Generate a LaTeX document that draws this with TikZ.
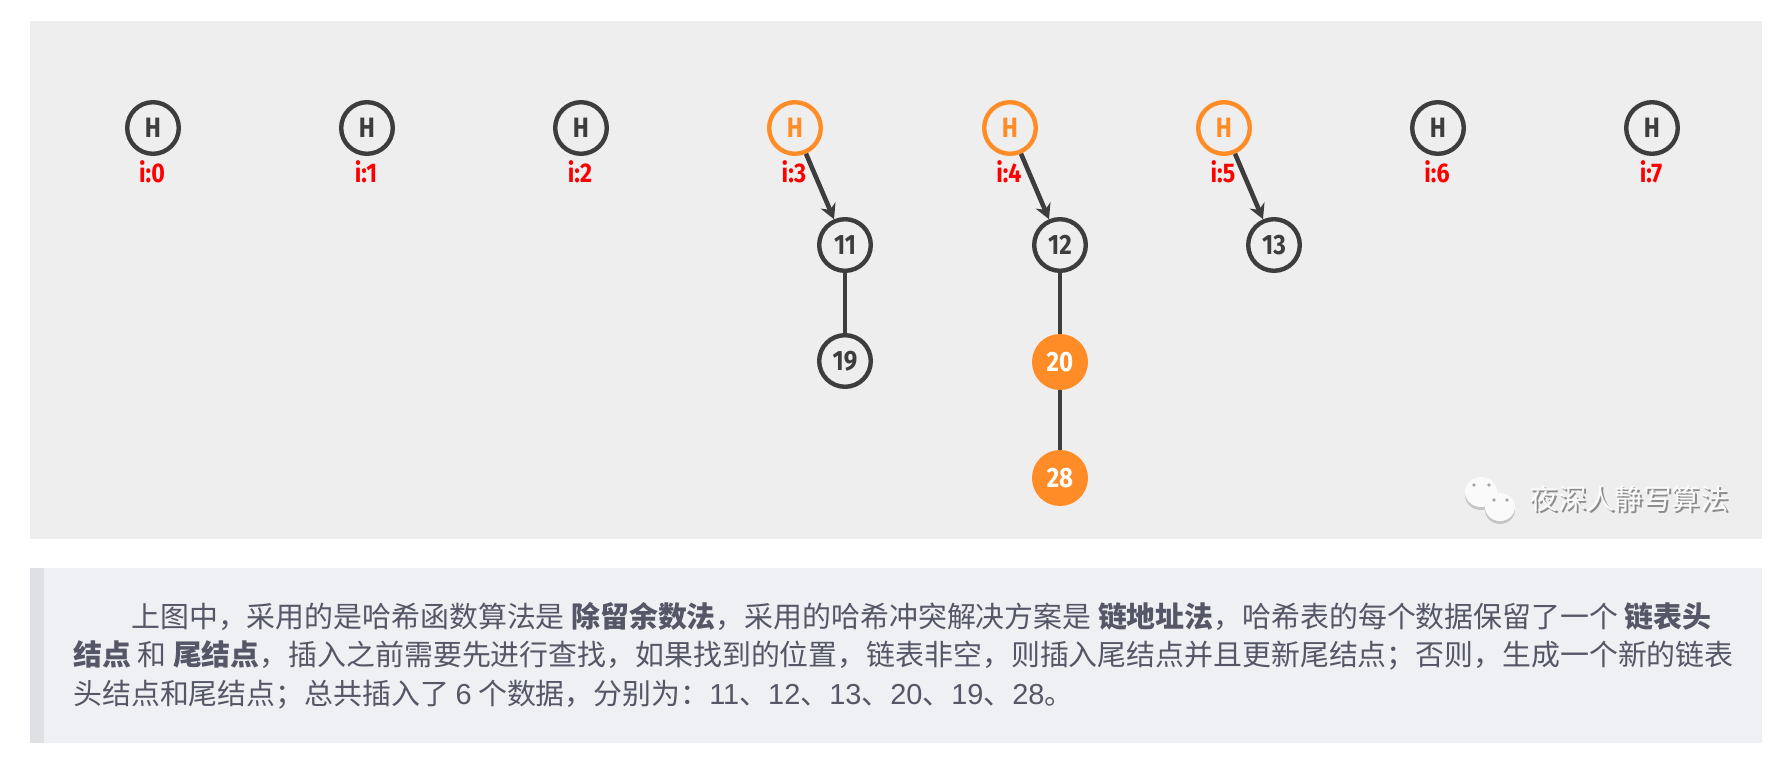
\documentclass[tikz,border=0pt]{standalone}
\usepackage{fontspec}
\setmainfont{Fira Sans}
\newfontfamily\narrowfont[FakeStretch=0.86,BoldFont={Fira Sans Bold}]{Fira Sans}
\newfontfamily\cjkfont{Noto Sans CJK SC}
\newfontfamily\latinfont{Liberation Sans}
\usetikzlibrary{arrows.meta}
\definecolor{panelgray}{HTML}{EEEEEE}
\definecolor{quotegray}{HTML}{EEF0F4}
\definecolor{quotebar}{HTML}{DFE0E6}
\definecolor{quotetext}{HTML}{555666}
\definecolor{nodedark}{HTML}{3D3D3D}
\definecolor{nodeorange}{HTML}{FF8C26}
\tikzset{
  hashhead/.style={circle, draw=nodedark, line width=2.2pt, minimum size=25.8pt, inner sep=0pt, text=nodedark, font=\fontsize{14}{14}\narrowfont\bfseries},
  hashactive/.style={hashhead, draw=nodeorange, text=nodeorange},
  listitem/.style={hashhead},
  listnew/.style={hashhead, draw=nodeorange, fill=nodeorange, text=white},
  slotlabel/.style={text=red, inner sep=0pt, font=\fontsize{13.5}{13.5}\narrowfont\bfseries},
  quoteline/.style={anchor=base west, inner sep=0pt, text=quotetext, font=\fontsize{14.45}{14.45}\cjkfont},
  link/.style={nodedark, line width=2.3pt},
  linkarrow/.style={link, -{Stealth[length=7.5pt,width=8pt]}},
  markshadow/.style={inner sep=0pt, font=\fontsize{14.2}{14.2}\cjkfont}
}
\newcommand{\lat}[1]{{\latinfont #1}}
\begin{document}
\begin{tikzpicture}[x=0.5pt,y=-0.5pt]
\useasboundingbox (0,0) rectangle (1790,776);
\fill[panelgray] (30,21) rectangle (1762,539);
\fill[quotegray] (30,568) rectangle (1762,743);
\fill[quotebar] (30,568) rectangle (44,743);

\node[hashhead] (h0) at (153,128) {H};
\node[hashhead] (h1) at (367,128) {H};
\node[hashhead] (h2) at (581,128) {H};
\node[hashactive] (h3) at (795,128) {H};
\node[hashactive] (h4) at (1010,128) {H};
\node[hashactive] (h5) at (1224,128) {H};
\node[hashhead] (h6) at (1438,128) {H};
\node[hashhead] (h7) at (1652,128) {H};

\node[slotlabel] (i0) at (152,172) {i:0};
\node[slotlabel] (i1) at (366,172) {i:1};
\node[slotlabel] (i2) at (580,172) {i:2};
\node[slotlabel] (i3) at (794,172) {i:3};
\node[slotlabel] (i4) at (1009,172) {i:4};
\node[slotlabel] (i5) at (1223,172) {i:5};
\node[slotlabel] (i6) at (1437,172) {i:6};
\node[slotlabel] (i7) at (1651,172) {i:7};

\node[listitem] (n11) at (845,245) {11};
\node[listitem] (n19) at (845,361) {19};
\node[listitem] (n12) at (1060,245) {12};
\node[listnew] (n20) at (1060,362) {20};
\node[listnew] (n28) at (1060,478) {28};
\node[listitem] (n13) at (1274,245) {13};

\draw[linkarrow] (h3) -- (n11);
\draw[linkarrow] (h4) -- (n12);
\draw[linkarrow] (h5) -- (n13);
\draw[link] (n11) -- (n19);
\draw[link] (n12) -- (n20);
\draw[link] (n20) -- (n28);

\fill[gray!45] (1481,495) ellipse (16 and 15);
\fill[white!70!panelgray] (1481,492) ellipse (16 and 15);
\fill[gray!45] (1500,510) ellipse (15 and 14);
\fill[white!70!panelgray] (1500,507) ellipse (15 and 14);
\fill[gray!70] (1474,485) circle (1.8);
\fill[gray!70] (1489,485) circle (1.8);
\fill[gray!70] (1494,500) circle (1.8);
\fill[gray!70] (1507,500) circle (1.8);
\node[markshadow, text=gray!90] (markback) at (1631,501) {夜深人静写算法};
\node[markshadow, text=white!70!panelgray] (mark) at (1629,499) {夜深人静写算法};

\node[quoteline] (line1) at (131,627) {上图中，采用的是哈希函数算法是 \textbf{除留余数法}，采用的哈希冲突解决方案是 \textbf{链地址法}，哈希表的每个数据保留了一个 \textbf{链表头}};
\node[quoteline] (line2) at (73,665) {\textbf{结点} 和 \textbf{尾结点}，插入之前需要先进行查找，如果找到的位置，链表非空，则插入尾结点并且更新尾结点；否则，生成一个新的链表};
\node[quoteline] (line3) at (73,704) {头结点和尾结点；总共插入了 \lat{6} 个数据，分别为：\lat{11}、\lat{12}、\lat{13}、\lat{20}、\lat{19}、\lat{28}。};
\end{tikzpicture}
\end{document}
